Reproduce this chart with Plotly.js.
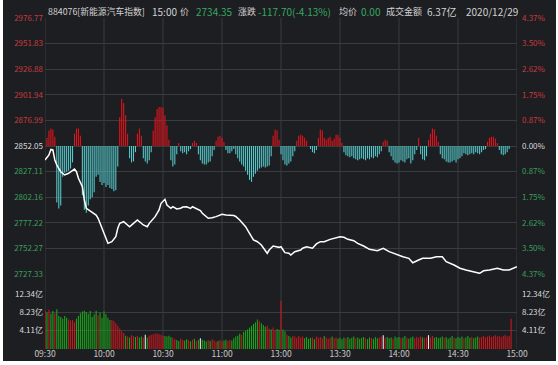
<!DOCTYPE html>
<html><head><meta charset="utf-8">
<script src="https://cdn.plot.ly/plotly-3.0.1.min.js"></script>
<style>
html,body{margin:0;padding:0;background:#ffffff;width:558px;height:365px;overflow:hidden}
#chart{position:absolute;left:3px;top:0;width:553px;height:361px}
</style>
</head><body><div id="chart"></div>
<script>
// ---- data ----
const prevClose = 2852.05;
const timeTicks = [0, 30, 60, 90, 120, 150, 180, 210, 240];
const timeLabels = ['09:30', '10:00', '10:30', '11:00', '13:00', '13:30', '14:00', '14:30', '15:00'];
const priceTicks = [2727.33, 2752.27, 2777.22, 2802.16, 2827.11, 2852.05, 2876.99, 2901.94, 2926.88, 2951.83, 2976.77];
const pctLabels = ['4.37%', '3.50%', '2.62%', '1.75%', '0.87%', '0.00%', '0.87%', '1.75%', '2.62%', '3.50%', '4.37%'];
const volTicks = [0, 4.11, 8.23, 12.34];
const volLabels = ['', '4.11亿', '8.23亿', '12.34亿'];

const priceMinutes = [
  0, 2, 3, 4, 5, 6, 8, 9, 10, 12,
  14, 15, 16, 17, 19, 20, 21, 23, 25, 26,
  27, 28, 29, 31, 32, 34, 36, 37, 38, 40,
  41, 43, 45, 47, 48, 50, 52, 53, 56, 58,
  59, 61, 62, 64, 65, 67, 69, 70, 72, 74,
  75, 77, 79, 80, 83, 85, 87, 90, 92, 96,
  97, 99, 102, 104, 106, 108, 110, 113, 114, 116,
  119, 120, 122, 124, 125, 127, 130, 131, 133, 136,
  138, 140, 142, 145, 147, 150, 152, 154, 157, 159,
  162, 165, 169, 172, 175, 179, 182, 185, 187, 190,
  192, 196, 199, 202, 204, 208, 211, 214, 218, 221,
  223, 226, 230, 233, 236, 240
];
const priceValues = [
  2838.4, 2843.3, 2848.8, 2848.2, 2838.4, 2833.5, 2827.0, 2825.5, 2823.8, 2825.5,
  2828.7, 2829.6, 2827.0, 2820.6, 2812.4, 2799.4, 2791.4, 2789.0, 2786.5, 2784.8,
  2781.6, 2776.7, 2773.4, 2763.7, 2757.2, 2758.8, 2763.7, 2771.9, 2776.7, 2778.3,
  2776.7, 2773.4, 2776.7, 2780.0, 2778.3, 2775.1, 2773.4, 2776.7, 2783.2, 2789.7,
  2796.2, 2800.1, 2794.6, 2791.3, 2792.9, 2790.7, 2791.3, 2792.6, 2792.9, 2791.2,
  2792.9, 2791.3, 2789.2, 2786.5, 2781.6, 2782.2, 2783.2, 2785.5, 2784.8, 2784.3,
  2783.4, 2780.0, 2773.4, 2767.0, 2760.5, 2758.8, 2755.6, 2747.5, 2750.7, 2754.6,
  2753.3, 2753.9, 2748.1, 2747.5, 2745.8, 2749.1, 2750.7, 2752.4, 2753.9, 2752.4,
  2756.6, 2758.8, 2758.8, 2761.1, 2762.1, 2763.7, 2763.1, 2761.1, 2759.8, 2757.2,
  2754.6, 2751.4, 2750.0, 2752.4, 2749.1, 2745.9, 2744.2, 2742.6, 2738.3, 2741.0,
  2742.6, 2742.6, 2744.2, 2744.2, 2739.4, 2736.1, 2732.9, 2731.2, 2729.6, 2728.0,
  2730.5, 2731.2, 2732.9, 2731.2, 2731.2, 2734.35
];

// buy/sell strength bars around previous close (price-axis units), one per minute
const powerValues = [
  0, 8, 15, 17, 16, 9, -55, -61, -58, -30,
  -26, -25, -24, -22, -16, 12, 17, 17, 10, -48,
  -62, -65, -58, -52, -50, -45, -30, -28, -35, -38,
  -36, -40, -38, -41, -42, -44, -43, -20, 28, 46,
  42, 30, 12, -12, -16, -15, -6, 12, 17, 10,
  -12, -15, -17, -14, -6, 15, 28, 36, 38, 38,
  37, 30, 20, 6, -14, -20, -18, -8, 3, -5,
  -7, -6, -8, -5, -3, 3, 5, 3, -8, -14,
  -17, -18, -18, -16, -15, -10, -4, 5, 9, 10,
  8, 4, -4, -7, -7, -5, -3, -8, -12, -15,
  -18, -20, -24, -28, -33, -35, -30, -27, -24, -22,
  -21, -20, -21, -20, -19, -10, 10, 16, 15, 6,
  -8, -14, -18, -19, -17, -15, -10, -5, 5, 10,
  11, 10, 8, 5, 0, -3, -6, -7, -4, 8,
  16, 15, 8, 6, 8, 9, 5, 7, 11, 11,
  8, 3, -6, -9, -10, -11, -10, -12, -13, -14,
  -13, -12, -13, -14, -12, -13, -11, -12, -10, -11,
  -8, -5, 4, 6, 5, -6, -10, -14, -16, -17,
  -16, -14, -15, -16, -13, -12, -17, -14, -8, -4,
  8, -8, -13, -14, -10, 6, 12, 17, 16, 10,
  4, -8, -12, -13, -15, -16, -16, -15, -14, -16,
  -13, -12, -10, -7, -8, -9, -8, -7, -8, -6,
  -7, -8, -6, -4, -3, 4, 8, 9, 9, 7,
  3, -4, -8, -9, -8, -6, -3, 0, 0, 0,
  0
];

// volume per minute (亿)
const volumeValues = [
  8.6, 8.2, 8.8, 7.9, 8.5, 8.0, 8.9, 7.4, 7.2, 6.8,
  7.4, 7.0, 6.6, 6.4, 6.5, 6.0, 6.8, 7.4, 8.0, 8.4,
  8.6, 8.3, 7.9, 8.5, 7.2, 7.8, 8.6, 7.6, 8.2, 7.0,
  8.4, 7.8, 7.0, 6.5, 6.5, 6.3, 5.8, 5.2, 4.6, 4.0,
  3.6, 3.0, 2.8, 2.6, 3.1, 2.9, 2.7, 3.0, 2.6, 2.8,
  2.5, 3.2, 2.6, 3.0, 3.2, 3.3, 3.4, 3.5, 3.3, 3.2,
  3.0, 2.9, 2.8, 3.0, 2.7, 2.5, 2.2, 2.0, 1.8, 2.3,
  2.1, 1.9, 2.2, 2.0, 1.7, 2.1, 2.3, 1.8, 2.0, 2.4,
  2.1, 1.9, 1.7, 2.0, 1.8, 2.2, 1.9, 1.6, 1.8, 2.0,
  1.7, 1.9, 2.1, 1.8, 2.0, 1.9, 2.4, 2.8, 3.0, 3.4,
  3.2, 3.8, 4.1, 4.4, 4.8, 5.2, 5.6, 6.0, 6.6, 6.2,
  5.8, 5.4, 5.0, 5.2, 4.6, 4.4, 4.8, 4.2, 4.5, 4.3,
  10.8, 4.4, 4.0, 3.2, 2.9, 2.6, 3.0, 2.8, 2.5, 2.9,
  2.6, 2.8, 2.4, 2.7, 2.3, 2.5, 2.6, 2.2, 2.8, 2.5,
  2.7, 2.4, 2.9, 2.6, 2.3, 2.5, 2.8, 2.4, 2.6, 2.3,
  2.5, 2.2, 2.6, 2.4, 2.7, 2.3, 2.5, 2.8, 2.4, 2.6,
  2.3, 2.5, 2.7, 2.4, 2.2, 2.6, 2.5, 2.3, 2.7, 2.4,
  2.6, 2.8, 3.1, 2.5, 2.7, 2.4, 2.6, 2.3, 2.8, 2.5,
  2.7, 2.4, 2.6, 2.9, 2.5, 2.3, 2.6, 2.8, 2.4, 2.7,
  2.5, 2.8, 2.6, 2.4, 2.7, 3.1, 2.6, 2.9, 2.5, 2.7,
  2.4, 2.6, 2.8, 2.5, 2.7, 2.3, 2.6, 2.9, 2.5, 2.4,
  2.7, 2.5, 2.8, 2.4, 2.6, 2.9, 2.5, 2.7, 2.4, 2.6,
  2.8, 2.5, 2.7, 2.9, 2.6, 2.8, 3.0, 2.7, 2.9, 3.1,
  2.8, 3.0, 2.7, 2.9, 3.2, 2.8, 3.0, 6.8, 0, 0,
  0
];
// r = up, g = down, w = unchanged
const volumeDir =
  'rgrggrgggg' + 'ggrrrrgggg' + 'gggggggrgg' + 'ggggrrrrrr' + 'rgrgrrgrgg' +
  'rwgrrrrrrr' + 'rggggrrggr' + 'rggrgrgrgw' + 'gggrgrrrgr' + 'rggrrggggg' +
  'rggggggggr' + 'gggrrgrrgg' + 'rggrggrrrr' + 'rrggggrgrr' + 'rrgrrrgrrg' +
  'gggrggggrg' + 'gggrggrggg' + 'rrwrgggrgg' + 'grggrgggrr' + 'rrgrrwrrgg' +
  'gggrggggrg' + 'gggrgggrgg' + 'grrrrrrrrr' + 'rrrrrrrrrr' + 'r';

const header = [
  {t: '884076[新能源汽车指数]', px: 47, c: 'txt', s: 8.8},
  {t: '15:00', px: 151, c: 'txt', s: 10},
  {t: '价', px: 179, c: 'txt', s: 9},
  {t: '2734.35', px: 195, c: 'dn', s: 10},
  {t: '涨跌', px: 237, c: 'txt', s: 9},
  {t: '-117.70(-4.13%)', px: 256.5, c: 'dn', s: 10},
  {t: '均价', px: 338, c: 'txt', s: 9},
  {t: '0.00', px: 360, c: 'dn', s: 10},
  {t: '成交金额', px: 385, c: 'txt', s: 9},
  {t: '6.37亿', px: 426, c: 'txt', s: 10},
  {t: '2020/12/29', px: 465, c: 'txt', s: 10}
];

// ---- style ----
const BG = '#1d1e22', GRID = '#3a3b40';
const RED_LBL = '#c8393c', GRN_LBL = '#3a9f5c', WHT_LBL = '#dcdcdc';
const FONT = '"Noto Sans CJK SC", "Noto Sans", sans-serif';
const colorMap = {txt: '#d2d2d2', dn: '#35a862'};

const minutes = volumeValues.map((_, i) => i);

function colorTick(t, i, mid) {
  const c = i > mid ? RED_LBL : (i < mid ? GRN_LBL : WHT_LBL);
  return '<span style="color:' + c + '">' + t + '</span>';
}
const priceTickText = priceTicks.map((v, i) => colorTick(v.toFixed(2), i, 5));
const pctTickText = pctLabels.map((t, i) => colorTick(t, i, 5));

const traces = [
  {
    type: 'bar', x: minutes, y: powerValues, base: prevClose, xaxis: 'x', yaxis: 'y',
    marker: {color: powerValues.map(v => v >= 0 ? '#e3141c' : '#55c9c9'), line: {width: 0}},
    hoverinfo: 'skip'
  },
  {
    type: 'scatter', mode: 'lines', x: priceMinutes, y: priceValues, xaxis: 'x', yaxis: 'y',
    line: {color: '#ffffff', width: 1.5}, hoverinfo: 'skip'
  },
  {
    type: 'bar', x: minutes, y: volumeValues, xaxis: 'x', yaxis: 'y2',
    marker: {
      color: volumeDir.split('').map(d => d === 'r' ? '#c8181c' : (d === 'g' ? '#1aa51a' : '#e8e8e8')),
      line: {width: 0}
    },
    hoverinfo: 'skip'
  }
];

const W = 553, H = 361, ML = 42, MR = 39, MT = 18, MB = 12;
const plotW = W - ML - MR, plotH = H - MT - MB;
const pxX = px => (px - 3 - ML) / plotW;          // page x -> paper
const pxY = py => (H - MB - py) / plotH;            // page y -> paper

const annotations = header.map(h => ({
  text: h.t, x: pxX(h.px), y: pxY(12), xref: 'paper', yref: 'paper',
  xanchor: 'left', yanchor: 'middle', showarrow: false, borderpad: 0,
  font: {family: FONT, size: h.s, color: colorMap[h.c]}
}));

const shapes = timeTicks.map(t => ({
  type: 'line', xref: 'x', yref: 'paper', x0: t, x1: t, y0: 0, y1: 1,
  line: {color: GRID, width: 1}, layer: 'below'
}));

const tickFont = {family: FONT, size: 8, color: WHT_LBL};

const layout = {
  width: W, height: H,
  margin: {l: ML, r: MR, t: MT, b: MB, pad: 0},
  paper_bgcolor: BG, plot_bgcolor: BG,
  showlegend: false, barmode: 'overlay', bargap: 0.45,
  font: {family: FONT, color: WHT_LBL},
  xaxis: {
    domain: [0, 1], range: [0, 240], anchor: 'y2',
    tickvals: timeTicks, ticktext: timeLabels,
    showgrid: false, zeroline: false, showline: false, ticks: '',
    tickfont: {family: FONT, size: 8.5, color: '#c8c8c8'}, ticklabelstandoff: -2
  },
  yaxis: {
    domain: [pxY(274), 1], range: [priceTicks[0], priceTicks[10]], anchor: 'x',
    tickvals: priceTicks, ticktext: priceTickText,
    showgrid: true, gridcolor: GRID, gridwidth: 1, zeroline: false, showline: false, ticks: '',
    tickfont: tickFont, ticklabelstandoff: 1
  },
  yaxis2: {
    domain: [0, pxY(294)], range: [0, 12.34], anchor: 'x',
    tickvals: volTicks, ticktext: volLabels,
    showgrid: true, gridcolor: GRID, gridwidth: 1, zeroline: false, showline: false, ticks: '',
    tickfont: tickFont, ticklabelstandoff: 1
  },
  yaxis3: {
    overlaying: 'y', side: 'right', anchor: 'x', range: [priceTicks[0], priceTicks[10]],
    tickvals: priceTicks, ticktext: pctTickText,
    showgrid: false, zeroline: false, showline: false, ticks: '',
    tickfont: tickFont, ticklabelstandoff: 4
  },
  yaxis4: {
    overlaying: 'y2', side: 'right', anchor: 'x', range: [0, 12.34],
    tickvals: volTicks, ticktext: volLabels,
    showgrid: false, zeroline: false, showline: false, ticks: '',
    tickfont: tickFont, ticklabelstandoff: 4
  },
  annotations: annotations,
  shapes: shapes
};

// invisible anchors so the right-side axes render
traces.push({type: 'scatter', x: [0], y: [prevClose], xaxis: 'x', yaxis: 'y3', mode: 'markers',
  marker: {opacity: 0}, hoverinfo: 'skip'});
traces.push({type: 'scatter', x: [0], y: [0], xaxis: 'x', yaxis: 'y4', mode: 'markers',
  marker: {opacity: 0}, hoverinfo: 'skip'});

Plotly.newPlot('chart', traces, layout, {staticPlot: true, displayModeBar: false});
</script>
</body></html>
